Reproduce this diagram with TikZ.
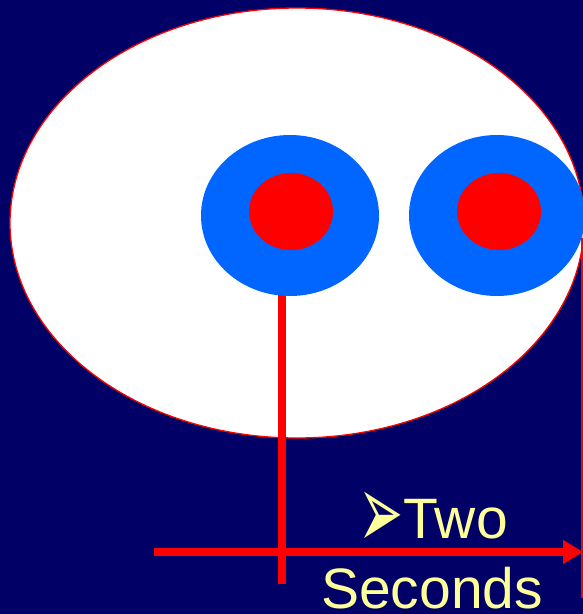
\documentclass[tikz,border=0pt]{standalone}
\usepackage{fontspec}
\setmainfont{Liberation Sans}
\newfontfamily\dingfont{DejaVu Sans}
\usetikzlibrary{arrows.meta}
\definecolor{slidebg}{RGB}{0,0,102}
\definecolor{ringblue}{RGB}{0,102,255}
\definecolor{paleyellow}{RGB}{255,255,153}
\newcommand{\bulletmark}{\raisebox{-10pt}{\scalebox{1.17}[2.3]{\dingfont\fontsize{46}{46}\selectfont ➢}}}
\begin{document}
\begin{tikzpicture}[x=1pt,y=-1pt,every node/.style={font=\fontsize{57}{70}\selectfont,text=paleyellow,inner sep=0pt}]
    \fill[slidebg] (0,0) rectangle (583,614);
    \useasboundingbox (0,0) rectangle (583,614);
    \filldraw[fill=white,draw=red,line width=1.3pt] (297,223) ellipse [x radius=287,y radius=215];
    \coordinate (hit) at (282,215);
    \coordinate (foot) at (282,584);
    \coordinate (start) at (154,552);
    \coordinate (stop) at (583,552);
    \coordinate (edgetop) at (582,238);
    \coordinate (edgebot) at (582,598);
    \draw[red,line width=8pt] (hit) -- (foot);
    \foreach \cx/\rx in {290/89,497/88} {
        \fill[ringblue] (\cx,215.5) ellipse [x radius=\rx,y radius=80.5];
    }
    \foreach \cx in {291,499} {
        \fill[red] (\cx,211.5) ellipse [x radius=42,y radius=38.5];
    }
    \draw[red,line width=1.5pt] (edgetop) -- (edgebot);
    \draw[red,line width=8pt,-{Triangle[length=20pt,width=23pt]}] (start) -- (stop);
    \node[anchor=base west] (two) at (358,538) {\bulletmark Two};
    \node[anchor=base west] (secs) at (321,608) {Seconds};
\end{tikzpicture}
\end{document}
